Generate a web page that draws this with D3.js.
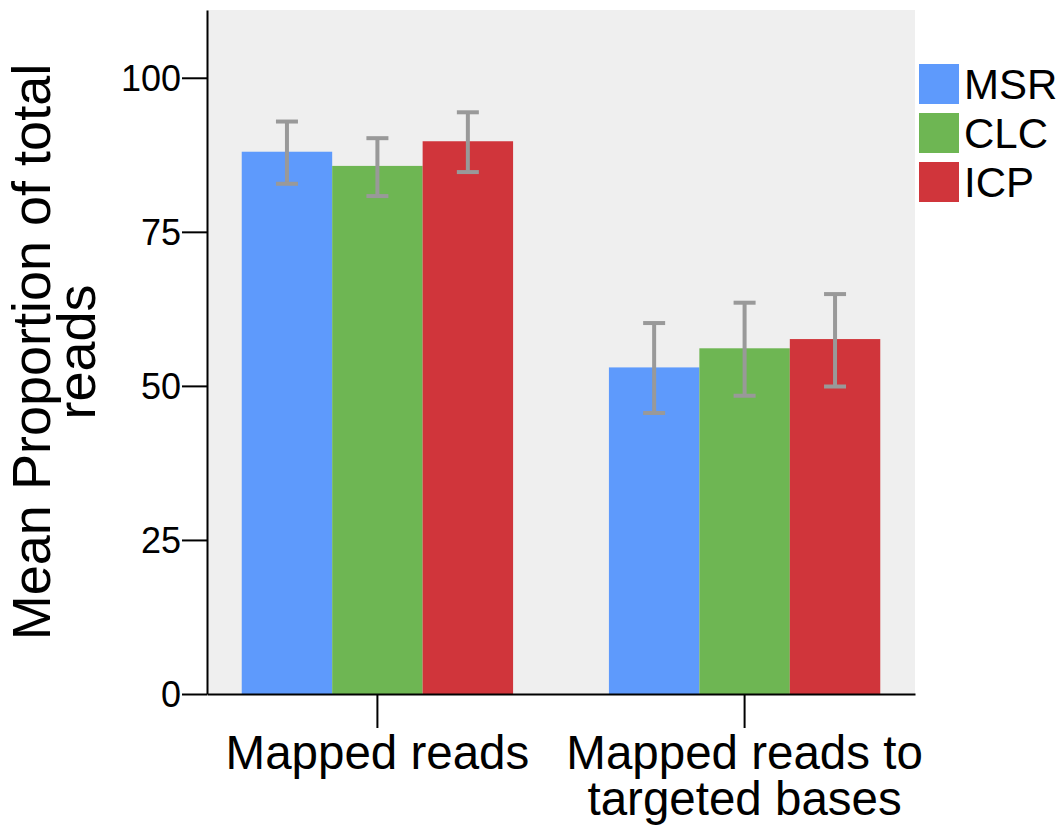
<!DOCTYPE html>
<html>
<head>
<meta charset="utf-8">
<script src="https://cdn.jsdelivr.net/npm/d3@7"></script>
<style>
  body { margin: 0; background: #fff; }
  text { font-family: "Liberation Sans", Arial, sans-serif; fill: #000; }
</style>
</head>
<body>
<div id="chart"></div>
<script>
// data
var categories = ["Mapped reads", "Mapped reads to targeted bases"];
var categoryLines = [["Mapped reads"], ["Mapped reads to", "targeted bases"]];
var seriesNames = ["MSR", "CLC", "ICP"];
var seriesColors = ["#5e9afc", "#6eb653", "#d0353b"];
var meanMSR = [88.0, 53.0];
var meanCLC = [85.7, 56.1];
var meanICP = [89.7, 57.6];
var lowMSR = [82.8, 45.6];
var lowCLC = [80.8, 48.4];
var lowICP = [84.7, 49.9];
var highMSR = [92.9, 60.2];
var highCLC = [90.2, 63.5];
var highICP = [94.4, 64.9];
var yTicks = [0, 25, 50, 75, 100];

var means = [meanMSR, meanCLC, meanICP];
var lows = [lowMSR, lowCLC, lowICP];
var highs = [highMSR, highCLC, highICP];

var width = 1060, height = 826;
var margin = {top: 10, right: 145, bottom: 132, left: 207};
var plotW = width - margin.left - margin.right;
var plotH = height - margin.top - margin.bottom;

var svg = d3.select("#chart").append("svg")
    .attr("width", width)
    .attr("height", height);

var chart = svg.append("g")
    .attr("transform", "translate(" + margin.left + "," + margin.top + ")");

var x0 = d3.scaleBand()
    .domain(categories)
    .range([0, plotW])
    .paddingInner(0.261)
    .paddingOuter(0.0946);

var x1 = d3.scaleBand()
    .domain(seriesNames)
    .range([0, x0.bandwidth()]);

var y = d3.scaleLinear()
    .domain([0, 111])
    .range([plotH, 0]);

// plot background
chart.append("rect")
    .attr("width", plotW)
    .attr("height", plotH)
    .attr("fill", "#efefef");

// flatten rows for bars
var rows = [];
categories.forEach(function(c, i) {
    seriesNames.forEach(function(s, j) {
        rows.push({cat: c, series: s, color: seriesColors[j],
            mean: means[j][i], low: lows[j][i], high: highs[j][i]});
    });
});

var groups = chart.selectAll(".bar")
    .data(rows)
    .enter().append("g")
    .attr("class", "bar")
    .attr("transform", function(d) { return "translate(" + (x0(d.cat) + x1(d.series)) + ",0)"; });

groups.append("rect")
    .attr("x", 0)
    .attr("width", x1.bandwidth())
    .attr("y", function(d) { return y(d.mean); })
    .attr("height", function(d) { return y(0) - y(d.mean); })
    .attr("fill", function(d) { return d.color; });

// error bars
var cx = x1.bandwidth() / 2, cap = 11;
groups.append("line")
    .attr("x1", cx).attr("x2", cx)
    .attr("y1", function(d) { return y(d.high); })
    .attr("y2", function(d) { return y(d.low); })
    .attr("stroke", "#999").attr("stroke-width", 4);
groups.append("line")
    .attr("x1", cx - cap).attr("x2", cx + cap)
    .attr("y1", function(d) { return y(d.high); })
    .attr("y2", function(d) { return y(d.high); })
    .attr("stroke", "#999").attr("stroke-width", 4);
groups.append("line")
    .attr("x1", cx - cap).attr("x2", cx + cap)
    .attr("y1", function(d) { return y(d.low); })
    .attr("y2", function(d) { return y(d.low); })
    .attr("stroke", "#999").attr("stroke-width", 4);

// y axis
var yAxis = chart.append("g")
    .attr("class", "axis")
    .call(d3.axisLeft(y).tickValues(yTicks).tickSize(25).tickSizeOuter(0).tickPadding(1));
yAxis.selectAll("path, line").attr("stroke", "#000").attr("stroke-width", 2);
yAxis.selectAll("text").style("font-size", "36px").attr("dy", "0.36em");

// x axis
var xAxis = chart.append("g")
    .attr("class", "axis")
    .attr("transform", "translate(0," + plotH + ")")
    .call(d3.axisBottom(x0).tickSize(34).tickSizeOuter(0));
xAxis.selectAll("path, line").attr("stroke", "#000").attr("stroke-width", 2);
xAxis.selectAll("text").remove();
xAxis.selectAll(".tick").each(function(d, i) {
    var t = d3.select(this).append("text")
        .attr("text-anchor", "middle")
        .attr("y", 75)
        .style("font-size", "47.5px");
    categoryLines[i].forEach(function(line, k) {
        t.append("tspan").attr("x", 0).attr("dy", k === 0 ? 0 : 46).text(line);
    });
});

// y title
var yTitle = svg.append("text")
    .attr("transform", "translate(50," + (margin.top + plotH / 2) + ") rotate(-90)")
    .attr("text-anchor", "middle")
    .style("font-size", "54px");
yTitle.append("tspan").attr("x", 0).attr("dy", 0).text("Mean Proportion of total");
yTitle.append("tspan").attr("x", 0).attr("dy", 45).text("reads");

// legend
var legend = svg.append("g")
    .attr("transform", "translate(919,64)");
var item = legend.selectAll(".legend")
    .data(seriesNames)
    .enter().append("g")
    .attr("class", "legend")
    .attr("transform", function(d, i) { return "translate(0," + (i * 49) + ")"; });
item.append("rect")
    .attr("width", 40).attr("height", 40)
    .attr("fill", function(d, i) { return seriesColors[i]; });
item.append("text")
    .attr("x", 45).attr("y", 20).attr("dy", "0.36em")
    .style("font-size", "42px")
    .text(function(d) { return d; });
</script>
</body>
</html>
